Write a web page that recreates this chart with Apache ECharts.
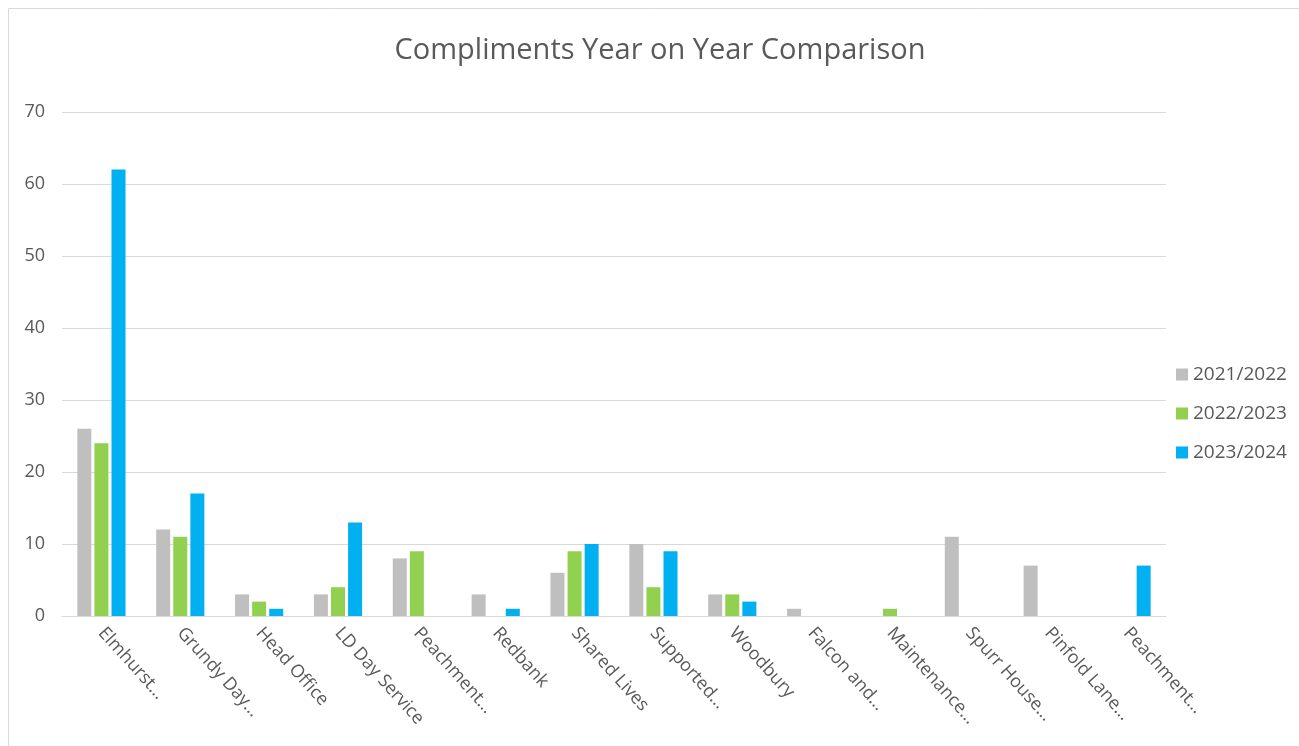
<!DOCTYPE html>
<html>
<head>
<meta charset="utf-8">
<script src="https://cdn.jsdelivr.net/npm/echarts@6/dist/echarts.min.js"></script>
<style>
  html, body { margin: 0; padding: 0; background: #ffffff; }
  #chart { width: 1299px; height: 746px; }
</style>
</head>
<body>
<div id="chart"></div>
<script>
// Services (labels as shown on the axis)
const categories = [
  'Elmhurst…', 'Grundy Day…', 'Head Office', 'LD Day Service', 'Peachment…',
  'Redbank', 'Shared Lives', 'Supported…', 'Woodbury', 'Falcon and…',
  'Maintenance…', 'Spurr House…', 'Pinfold Lane…', 'Peachment…'
];

// Compliments received per year
const y2021_2022 = [26, 12, 3, 3, 8, 3, 6, 10, 3, 1, 0, 11, 7, 0];
const y2022_2023 = [24, 11, 2, 4, 9, 0, 9, 4, 3, 0, 1, 0, 0, 0];
const y2023_2024 = [62, 17, 1, 13, 0, 1, 10, 9, 2, 0, 0, 0, 0, 7];

const seriesNames = ['2021/2022', '2022/2023', '2023/2024'];
const seriesColors = ['#bfbfbf', '#92d050', '#00b0f0'];
const yTicks = { min: 0, max: 70, interval: 10 };

const FONT = '"Open Sans", sans-serif';
const TEXT = '#595959';

const chart = echarts.init(document.getElementById('chart'));

// Zero values are left out so no stub bar is drawn
const clean = arr => arr.map(v => (v === 0 ? null : v));

chart.setOption({
  animation: false,
  backgroundColor: '#ffffff',
  graphic: [
    {
      type: 'rect',
      shape: { x: 8.5, y: 8.5, width: 1300, height: 760 },
      style: { fill: 'none', stroke: '#d9d9d9', lineWidth: 1 },
      silent: true
    },
    {
      type: 'text',
      x: 660,
      y: 51,
      style: {
        text: 'Compliments Year on Year Comparison',
        fontFamily: FONT,
        fontSize: 29,
        fill: TEXT,
        align: 'center',
        verticalAlign: 'middle'
      },
      silent: true
    }
  ],
  legend: {
    orient: 'vertical',
    left: 1171,
    top: 360,
    itemWidth: 12,
    itemHeight: 12,
    itemGap: 20,
    icon: 'rect',
    textStyle: { fontFamily: FONT, fontSize: 19, color: TEXT },
    data: seriesNames
  },
  grid: { left: 62, right: 133, top: 112, bottom: 130, containLabel: false },
  xAxis: {
    type: 'category',
    data: categories,
    axisLine: { lineStyle: { color: '#d9d9d9', width: 1 } },
    axisTick: { show: false },
    axisLabel: {
      rotate: -48,
      interval: 0,
      margin: 14,
      fontFamily: FONT,
      fontSize: 18,
      color: TEXT
    }
  },
  yAxis: {
    type: 'value',
    min: yTicks.min,
    max: yTicks.max,
    interval: yTicks.interval,
    axisLine: { show: false },
    axisTick: { show: false },
    splitLine: { lineStyle: { color: '#d9d9d9', width: 1 } },
    axisLabel: { fontFamily: FONT, fontSize: 18, color: TEXT, margin: 17 }
  },
  series: [y2021_2022, y2022_2023, y2023_2024].map((d, i) => ({
    name: seriesNames[i],
    type: 'bar',
    data: clean(d),
    barWidth: 14,
    barGap: '22%',
    itemStyle: { color: seriesColors[i] }
  }))
});
</script>
</body>
</html>
